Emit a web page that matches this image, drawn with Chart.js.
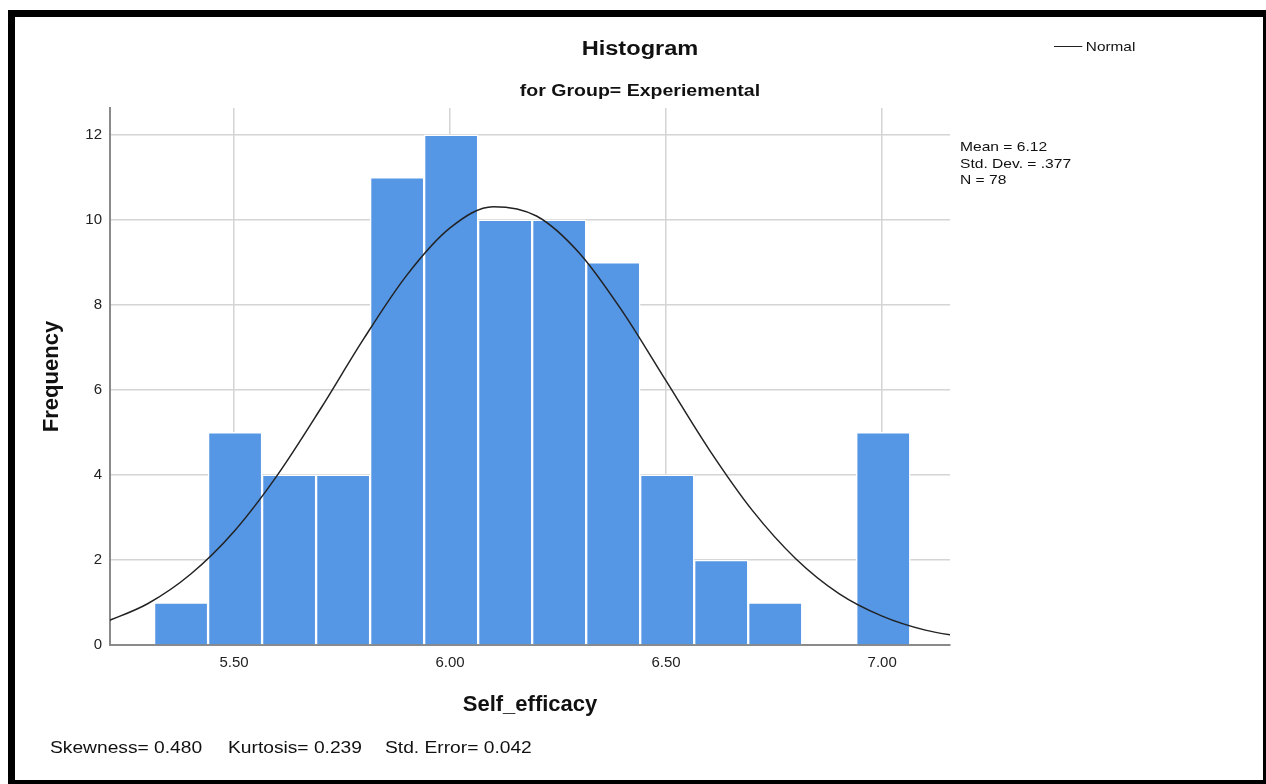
<!DOCTYPE html>
<html>
<head>
<meta charset="utf-8">
<script src="https://cdn.jsdelivr.net/npm/chart.js@4/dist/chart.umd.min.js"></script>
<style>
  html, body { margin: 0; padding: 0; background: #fff; }
  body { width: 1266px; height: 784px; position: relative; overflow: hidden; font-family: 'Liberation Sans', Arial, sans-serif; color: #111; }
  #frame { position: absolute; left: 8px; top: 10px; width: 1248px; height: 763px; border-style: solid; border-color: #000; border-width: 7px 3px 4px 7px; }
  #chartWrap { position: absolute; left: 0; top: 0; width: 1266px; height: 784px; }
  .txt { position: absolute; white-space: nowrap; transform-origin: 0 0; transform: scaleX(1.18); }
  .ctr { transform-origin: 50% 0; }
  #title { left: 440px; width: 400px; top: 37px; text-align: center; font-weight: bold; font-size: 20px; }
  #subtitle { left: 440px; width: 400px; top: 82px; text-align: center; font-weight: bold; font-size: 16px; transform: scaleX(1.22); }
  #legend { left: 1054px; top: 39px; font-size: 13px; }
  #legend span.line { display: inline-block; width: 24px; height: 0; border-top: 1.5px solid #222; vertical-align: middle; margin-right: 3px; position: relative; top: -1px; }
  #stats { left: 960px; top: 139px; font-size: 13px; line-height: 16.5px; transform: scaleX(1.2); }
  .foot { top: 739px; font-size: 16px; transform: scaleX(1.2); }
</style>
</head>
<body>
<div id="chartWrap"><canvas id="histChart" width="1266" height="784"></canvas></div>
<div id="frame"></div>
<div class="txt ctr" id="title">Histogram</div>
<div class="txt ctr" id="subtitle">for Group= Experiemental</div>
<div class="txt" id="legend"><span class="line"></span>Normal</div>
<div class="txt" id="stats">Mean = 6.12<br>Std. Dev. = .377<br>N = 78</div>
<div class="txt foot" style="left:50px">Skewness= 0.480</div>
<div class="txt foot" style="left:228px">Kurtosis= 0.239</div>
<div class="txt foot" style="left:385px">Std. Error= 0.042</div>
<script>
// bin centres (width 0.125) and counts
const binCenters = [5.3775, 5.5025, 5.6275, 5.7525, 5.8775, 6.0025, 6.1275, 6.2525, 6.3775, 6.5025, 6.6275, 6.7525, 6.8775, 7.0025];
const binCounts = [1, 5, 4, 4, 11, 12, 10, 10, 9, 4, 2, 1, 0, 5];

// normal curve
const curveX = [5.2, 5.3, 5.4, 5.5, 5.6, 5.7, 5.8, 5.9, 6.0, 6.1, 6.2, 6.3, 6.4, 6.5, 6.6, 6.7, 6.8, 6.9, 7.0, 7.1, 7.2];
const curveY = [0.53, 0.97, 1.67, 2.67, 3.99, 5.55, 7.20, 8.70, 9.81, 10.31, 10.09, 9.21, 7.83, 6.21, 4.59, 3.16, 2.03, 1.21, 0.68, 0.35, 0.17];

const xTickValues = [5.5, 6.0, 6.5, 7.0];
const yTickValues = [0, 2, 4, 6, 8, 10, 12];

const ctx = document.getElementById('histChart').getContext('2d');
new Chart(ctx, {
    type: 'bar',
    data: {
        datasets: [
            {
                type: 'line',
                label: 'Normal',
                data: curveX.map((x, i) => ({ x: x, y: curveY[i] })),
                borderColor: '#222',
                borderWidth: 1.5,
                pointRadius: 0,
                tension: 0.4,
                cubicInterpolationMode: 'monotone',
                order: 1
            },
            {
                label: 'Frequency',
                data: binCenters.map((x, i) => ({ x: x, y: binCounts[i] })),
                backgroundColor: '#5596E5',
                borderColor: '#ffffff',
                borderWidth: 1.5,
                borderSkipped: 'bottom',
                barPercentage: 1,
                categoryPercentage: 1,
                order: 2
            }
        ]
    },
    options: {
        responsive: false,
        animation: false,
        layout: { padding: { left: 0, right: 316, top: 108, bottom: 0 } },
        plugins: {
            legend: { display: false },
            tooltip: { enabled: false }
        },
        scales: {
            x: {
                type: 'linear',
                offset: false,
                min: 5.213,
                max: 7.157,
                afterFit: scale => { scale.height = 139; },
                afterBuildTicks: scale => { scale.ticks = xTickValues.map(v => ({ value: v })); },
                grid: { color: '#d4d4d4', lineWidth: 1.5, drawTicks: false, offset: false },
                border: { color: '#8a8a8a', width: 2 },
                ticks: {
                    padding: 9,
                    color: '#222',
                    font: { family: "'Liberation Sans', Arial", size: 15 },
                    callback: v => v.toFixed(2)
                },
                title: {
                    display: true,
                    text: 'Self_efficacy',
                    color: '#111',
                    font: { family: "'Liberation Sans', Arial", size: 22, weight: 'bold' },
                    padding: { top: 0, bottom: 66 }
                }
            },
            y: {
                min: 0,
                max: 12.63,
                afterFit: scale => { scale.width = 110; },
                afterBuildTicks: scale => { scale.ticks = yTickValues.map(v => ({ value: v })); },
                grid: { color: '#d4d4d4', lineWidth: 1.5, drawTicks: false },
                border: { color: '#8a8a8a', width: 2 },
                ticks: {
                    padding: 8,
                    color: '#222',
                    font: { family: "'Liberation Sans', Arial", size: 15 }
                },
                title: {
                    display: true,
                    text: 'Frequency',
                    color: '#111',
                    font: { family: "'Liberation Sans', Arial", size: 22, weight: 'bold' },
                    padding: { top: 39, bottom: 0 }
                }
            }
        }
    }
});
</script>
</body>
</html>
